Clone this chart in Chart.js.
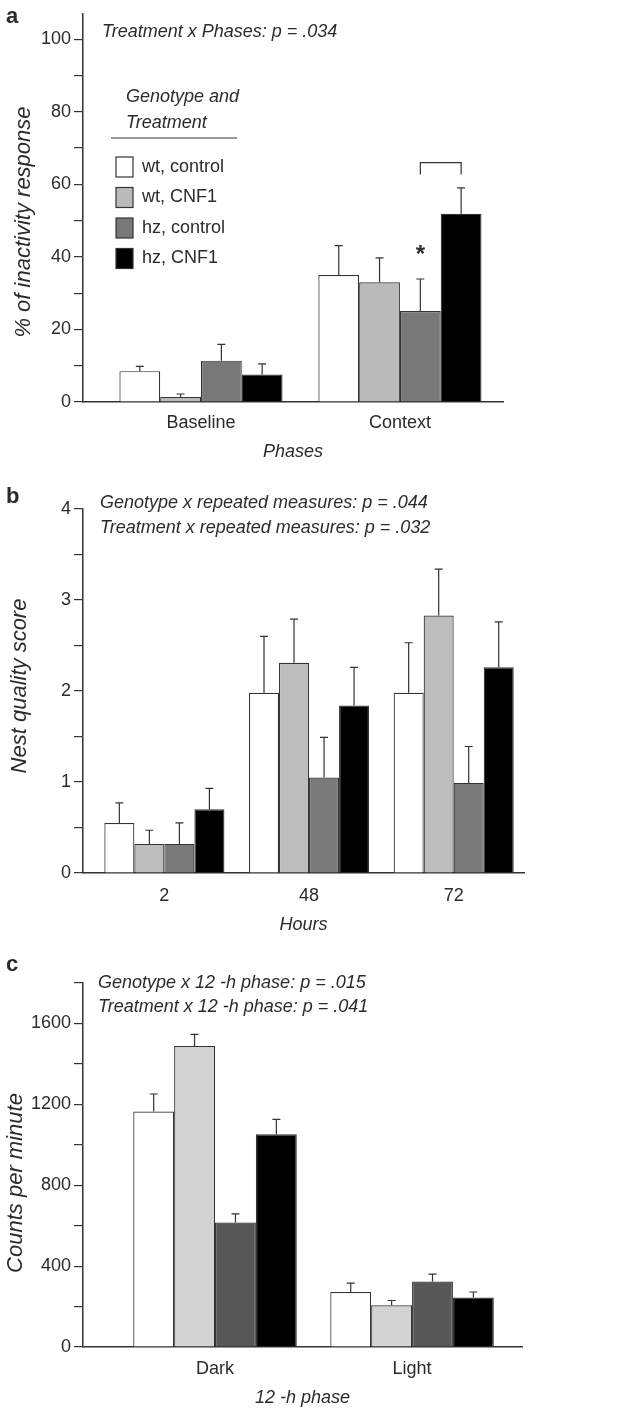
<!DOCTYPE html>
<html>
<head>
<meta charset="utf-8">
<script src="https://cdn.jsdelivr.net/npm/chart.js@4"></script>
<style>
body { margin: 0; background: #fff; width: 633px; height: 1411px; position: relative; overflow: hidden; }
.panel { position: absolute; left: 0; width: 633px; }
</style>
</head>
<body>
<div class="panel" style="top:0;height:470px"><canvas id="chartA" width="633" height="470"></canvas></div>
<div class="panel" style="top:470px;height:470px"><canvas id="chartB" width="633" height="470"></canvas></div>
<div class="panel" style="top:940px;height:471px"><canvas id="chartC" width="633" height="471"></canvas></div>
<script>
const groups = ['wt, control', 'wt, CNF1', 'hz, control', 'hz, CNF1'];

// panel a: inactivity response
const phases = ['Baseline', 'Context'];
const inactivityMean = [[8.5, 35.0], [1.4, 33.0], [11.4, 25.1], [7.6, 51.9]];
const inactivitySem = [[1.3, 8.1], [0.8, 6.7], [4.5, 8.8], [2.9, 7.1]];
const inactivityTicks = [0, 10, 20, 30, 40, 50, 60, 70, 80, 90, 100];

// panel b: nest quality
const hours = ['2', '48', '72'];
const nestMean = [[0.55, 1.98, 1.98], [0.32, 2.31, 2.83], [0.32, 1.05, 0.99], [0.70, 1.84, 2.26]];
const nestSem = [[0.22, 0.62, 0.55], [0.15, 0.48, 0.51], [0.23, 0.44, 0.40], [0.23, 0.42, 0.50]];
const nestTicks = [0, 0.5, 1, 1.5, 2, 2.5, 3, 3.5, 4];

// panel c: locomotor counts
const dayPhases = ['Dark', 'Light'];
const countsMean = [[1164, 272], [1488, 206], [616, 324], [1052, 245]];
const countsSem = [[87, 44], [58, 24], [42, 36], [74, 27]];
const countsTicks = [0, 200, 400, 600, 800, 1000, 1200, 1400, 1600, 1800];

const FONT = '"Liberation Sans", Arial, sans-serif';
const INK = '#2b2b2b';

const errorBars = {
  id: 'errorBars',
  afterDatasetsDraw(chart) {
    const ctx = chart.ctx;
    const y = chart.scales.y;
    ctx.save();
    ctx.strokeStyle = '#333';
    ctx.lineWidth = 1.2;
    chart.data.datasets.forEach((ds, i) => {
      chart.getDatasetMeta(i).data.forEach((bar, j) => {
        const top = y.getPixelForValue(ds.data[j].y + ds.sem[j]);
        ctx.beginPath();
        ctx.moveTo(bar.x, bar.y);
        ctx.lineTo(bar.x, top);
        ctx.moveTo(bar.x - 4, top);
        ctx.lineTo(bar.x + 4, top);
        ctx.stroke();
      });
    });
    ctx.restore();
  }
};

function text(ctx, str, x, y, font, align) {
  ctx.font = font;
  ctx.fillStyle = INK;
  ctx.textAlign = align || 'left';
  ctx.textBaseline = 'middle';
  ctx.fillText(str, x, y);
}

function yTitle(ctx, str, x, y) {
  ctx.save();
  ctx.translate(x, y);
  ctx.rotate(-Math.PI / 2);
  text(ctx, str, 0, 0, 'italic 22px ' + FONT, 'center');
  ctx.restore();
}

function makePanel(id, p) {
  const H = p.height;
  return new Chart(document.getElementById(id), {
    type: 'bar',
    data: {
      datasets: groups.map((g, i) => ({
        label: g,
        data: p.mean[i].map((v, j) => ({ x: j + 1, y: v })),
        sem: p.sem[i],
        backgroundColor: p.colors[i],
        borderColor: '#333',
        borderWidth: 1.2,
        categoryPercentage: p.catPct,
        barPercentage: 1
      }))
    },
    options: {
      responsive: false,
      animation: false,
      layout: { padding: { left: 0, right: 633 - p.area[1], top: p.area[2], bottom: 0 } },
      plugins: { legend: { display: false }, tooltip: { enabled: false } },
      scales: {
        x: {
          type: 'linear',
          offset: false,
          min: p.xMin,
          max: p.xMax,
          afterBuildTicks: s => { s.ticks = p.cats.map((c, j) => ({ value: j + 1 })); },
          afterFit: s => { s.height = H - p.area[3]; },
          ticks: {
            callback: v => p.cats[v - 1],
            font: { family: FONT, size: 18 },
            color: INK,
            padding: p.xPad,
            autoSkip: false,
            maxRotation: 0
          },
          grid: { display: false, drawTicks: false, offset: false },
          border: { color: '#333', width: 1.5 },
          title: {
            display: true,
            text: p.xTitle,
            font: { family: FONT, size: 18, style: 'italic' },
            color: INK,
            padding: { top: 0, bottom: p.xTitlePad }
          }
        },
        y: {
          min: 0,
          max: p.yMax,
          afterBuildTicks: s => { s.ticks = p.ticks.map(v => ({ value: v })); },
          afterFit: s => { s.width = p.area[0]; },
          ticks: {
            callback: v => (p.showLabel(v) ? String(v) : ''),
            font: { family: FONT, size: 18 },
            color: INK,
            padding: 3,
            autoSkip: false
          },
          grid: { drawOnChartArea: false, drawTicks: true, tickLength: 9, color: '#333', lineWidth: 1.2 },
          border: { color: '#333', width: 1.5 }
        }
      }
    },
    plugins: [errorBars, { id: 'notes', afterDraw: c => p.notes(c.ctx, c) }]
  });
}

const aColors = ['#ffffff', '#bababa', '#787878', '#000000'];

makePanel('chartA', {
  height: 470, area: [83, 503, 7, 402],
  xMin: 0.407, xMax: 2.518, catPct: 0.82,
  cats: phases, mean: inactivityMean, sem: inactivitySem,
  ticks: inactivityTicks, yMax: 107, showLabel: v => v % 20 === 0,
  colors: aColors,
  xTitle: 'Phases', xTitlePad: 7, xPad: 10,
  notes(ctx, chart) {
    text(ctx, 'a', 6, 17, 'bold 22px ' + FONT);
    yTitle(ctx, '% of inactivity response', 24, 222);
    text(ctx, 'Treatment x Phases: p = .034', 102, 32, 'italic 18px ' + FONT);
    text(ctx, 'Genotype and', 126, 97, 'italic 18px ' + FONT);
    text(ctx, 'Treatment', 126, 123, 'italic 18px ' + FONT);
    ctx.save();
    ctx.strokeStyle = '#333';
    ctx.lineWidth = 1.2;
    ctx.beginPath();
    ctx.moveTo(111, 138);
    ctx.lineTo(237, 138);
    ctx.stroke();
    groups.forEach((g, i) => {
      const ry = 167 + i * 30.5;
      ctx.fillStyle = aColors[i];
      ctx.fillRect(116, ry - 10, 17, 20);
      ctx.strokeRect(116, ry - 10, 17, 20);
      text(ctx, g, 142, ry, '18px ' + FONT);
    });
    // significance marks on the Context group
    const y = chart.scales.y;
    const hzCtl = chart.getDatasetMeta(2).data[1];
    const hzCnf = chart.getDatasetMeta(3).data[1];
    text(ctx, '*', hzCtl.x, y.getPixelForValue(40.5), 'bold 24px ' + FONT, 'center');
    ctx.strokeStyle = '#333';
    ctx.beginPath();
    ctx.moveTo(hzCtl.x, y.getPixelForValue(62.7));
    ctx.lineTo(hzCtl.x, y.getPixelForValue(66));
    ctx.lineTo(hzCnf.x, y.getPixelForValue(66));
    ctx.lineTo(hzCnf.x, y.getPixelForValue(62.7));
    ctx.stroke();
    ctx.restore();
  }
});

makePanel('chartB', {
  height: 470, area: [83, 524, 39, 403],
  xMin: 0.4375, xMax: 3.486, catPct: 0.83,
  cats: hours, mean: nestMean, sem: nestSem,
  ticks: nestTicks, yMax: 4, showLabel: v => Number.isInteger(v),
  colors: ['#ffffff', '#bdbdbd', '#7a7a7a', '#000000'],
  xTitle: 'Hours', xTitlePad: 4, xPad: 12,
  notes(ctx) {
    text(ctx, 'b', 6, 27, 'bold 22px ' + FONT);
    yTitle(ctx, 'Nest quality score', 20, 216);
    text(ctx, 'Genotype x repeated measures: p = .044', 100, 33, 'italic 18px ' + FONT);
    text(ctx, 'Treatment x repeated measures: p = .032', 100, 58, 'italic 18px ' + FONT);
  }
});

makePanel('chartC', {
  height: 471, area: [83, 522, 43, 407],
  xMin: 0.33, xMax: 2.558, catPct: 0.83,
  cats: dayPhases, mean: countsMean, sem: countsSem,
  ticks: countsTicks, yMax: 1800, showLabel: v => v % 400 === 0 && v <= 1600,
  colors: ['#ffffff', '#d3d3d3', '#575757', '#000000'],
  xTitle: '12 -h phase', xTitlePad: 2, xPad: 11,
  notes(ctx) {
    text(ctx, 'c', 6, 25, 'bold 22px ' + FONT);
    yTitle(ctx, 'Counts per minute', 16, 243);
    text(ctx, 'Genotype x 12 -h phase: p = .015', 98, 43, 'italic 18px ' + FONT);
    text(ctx, 'Treatment x 12 -h phase: p = .041', 98, 67, 'italic 18px ' + FONT);
  }
});
</script>
</body>
</html>
